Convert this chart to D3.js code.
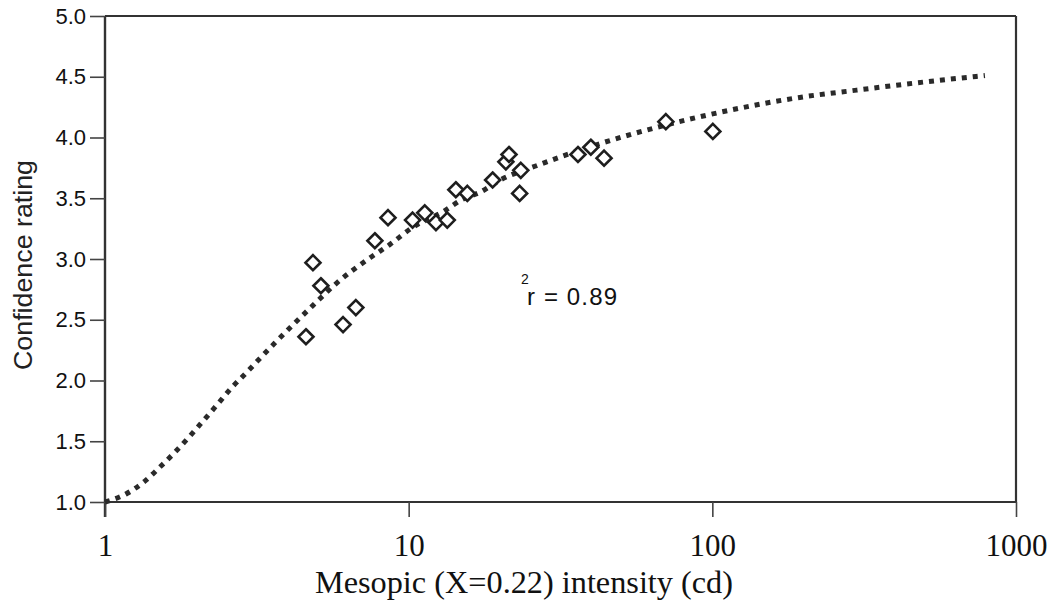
<!DOCTYPE html>
<html>
<head>
<meta charset="utf-8">
<script src="https://cdn.jsdelivr.net/npm/d3@7"></script>
<style>
  html, body { margin: 0; padding: 0; background: #fff; }
  svg { display: block; }
</style>
</head>
<body>
<svg id="chart" width="1050" height="603"></svg>
<script>
// ---- data ----
const intensity = [4.84, 5.14, 4.59, 6.08, 6.70, 7.74, 8.55, 10.3, 11.3, 12.3, 13.4, 14.3, 15.6, 18.9, 20.9, 21.4, 23.4, 23.2, 36.1, 39.8, 44.0, 70.3, 100.4];
const rating    = [2.97, 2.78, 2.36, 2.46, 2.60, 3.15, 3.34, 3.32, 3.38, 3.30, 3.32, 3.57, 3.54, 3.65, 3.80, 3.86, 3.73, 3.54, 3.86, 3.92, 3.83, 4.13, 4.05];

const fitX = [1.00, 1.18, 1.35, 1.52, 1.70, 1.90, 2.11, 2.34, 2.61, 2.91, 3.26, 3.63, 4.09, 4.85, 5.72, 7.46, 8.68, 10.3, 13.0, 15.0, 17.2, 20.0, 26.5, 42.7, 67.2, 117, 194, 299, 472, 790];
const fitY = [1.00, 1.07, 1.17, 1.29, 1.41, 1.54, 1.67, 1.80, 1.94, 2.06, 2.19, 2.31, 2.44, 2.62, 2.79, 3.01, 3.12, 3.26, 3.39, 3.49, 3.55, 3.65, 3.77, 3.95, 4.09, 4.23, 4.33, 4.39, 4.45, 4.51];

const xTicks = [1, 10, 100, 1000];
const xTickLabels = ["1", "10", "100", "1000"];
const yTicks = [1.0, 1.5, 2.0, 2.5, 3.0, 3.5, 4.0, 4.5, 5.0];

const xTitle = "Mesopic (X=0.22) intensity (cd)";
const yTitle = "Confidence rating";
const rText = "r = 0.89";

// ---- layout ----
const svg = d3.select("#chart");
const L = 105, R = 1016, T = 16, B = 502;
const x = d3.scaleLog().domain([1, 1000]).range([L, R]);
const y = d3.scaleLinear().domain([1, 5]).range([B, T]);
const axisColor = "#333";

// frame: top and right border
svg.append("line").attr("x1", L).attr("x2", R).attr("y1", T).attr("y2", T)
  .attr("stroke", axisColor).attr("stroke-width", 2);
svg.append("line").attr("x1", R).attr("x2", R).attr("y1", T).attr("y2", B)
  .attr("stroke", axisColor).attr("stroke-width", 2.2);

// y axis
const yAxis = svg.append("g").attr("transform", `translate(${L},0)`)
  .call(d3.axisLeft(y).tickValues(yTicks).tickFormat(d3.format(".1f")).tickSize(15).tickPadding(4));
yAxis.select(".domain").attr("stroke", axisColor).attr("stroke-width", 2.4)
  .attr("d", `M0,${T}V${B + 15}`);
yAxis.selectAll(".tick line").attr("stroke", "#444").attr("stroke-width", 1.6);
yAxis.selectAll(".tick text")
  .attr("font-family", "Liberation Sans, Arial, sans-serif")
  .attr("font-size", 22).attr("fill", "#111");

// x axis
const xAxis = svg.append("g").attr("transform", `translate(0,${B})`)
  .call(d3.axisBottom(x).tickValues(xTicks).tickFormat((d, i) => xTickLabels[i]).tickSize(15).tickPadding(4));
xAxis.select(".domain").attr("stroke", axisColor).attr("stroke-width", 2.2)
  .attr("d", `M${L},0H${R}`);
xAxis.selectAll(".tick line").attr("stroke", "#444").attr("stroke-width", 1.6);
xAxis.selectAll(".tick text")
  .attr("font-family", "Liberation Serif, Times New Roman, serif")
  .attr("font-size", 31).attr("fill", "#111")
  .attr("dy", null).attr("y", 54);

// fitted curve (dotted)
const fit = fitX.map((v, i) => [v, fitY[i]]);
svg.append("path")
  .datum(fit)
  .attr("fill", "none")
  .attr("stroke", "#2a2a2a")
  .attr("stroke-width", 5)
  .attr("stroke-dasharray", "5,6")
  .attr("d", d3.line().x(d => x(d[0])).y(d => y(d[1])).curve(d3.curveMonotoneX));

// data points (open diamonds)
const pts = intensity.map((v, i) => [v, rating[i]]);
const s = 7.5;
svg.append("g").selectAll("path")
  .data(pts).join("path")
  .attr("transform", d => `translate(${x(d[0])},${y(d[1])})`)
  .attr("d", `M0,${-s}L${s},0L0,${s}L${-s},0Z`)
  .attr("fill", "#fff")
  .attr("stroke", "#1e1e1e")
  .attr("stroke-width", 2.6);

// r^2 annotation
svg.append("text").attr("x", 521).attr("y", 284)
  .attr("font-family", "Liberation Sans, Arial, sans-serif")
  .attr("font-size", 14).attr("fill", "#111").text("2");
svg.append("text").attr("x", 527).attr("y", 305)
  .attr("font-family", "Liberation Sans, Arial, sans-serif")
  .attr("font-size", 24).attr("fill", "#111")
  .attr("textLength", 90).attr("lengthAdjust", "spacing")
  .text(rText);

// axis titles
svg.append("text").attr("x", 524).attr("y", 593)
  .attr("text-anchor", "middle")
  .attr("font-family", "Liberation Serif, Times New Roman, serif")
  .attr("font-size", 32).attr("fill", "#111")
  .attr("textLength", 418).attr("lengthAdjust", "spacingAndGlyphs")
  .text(xTitle);

svg.append("text")
  .attr("transform", "translate(32,265) rotate(-90)")
  .attr("text-anchor", "middle")
  .attr("font-family", "Liberation Sans, Arial, sans-serif")
  .attr("font-size", 25).attr("fill", "#222")
  .attr("textLength", 210).attr("lengthAdjust", "spacingAndGlyphs")
  .text(yTitle);
</script>
</body>
</html>
